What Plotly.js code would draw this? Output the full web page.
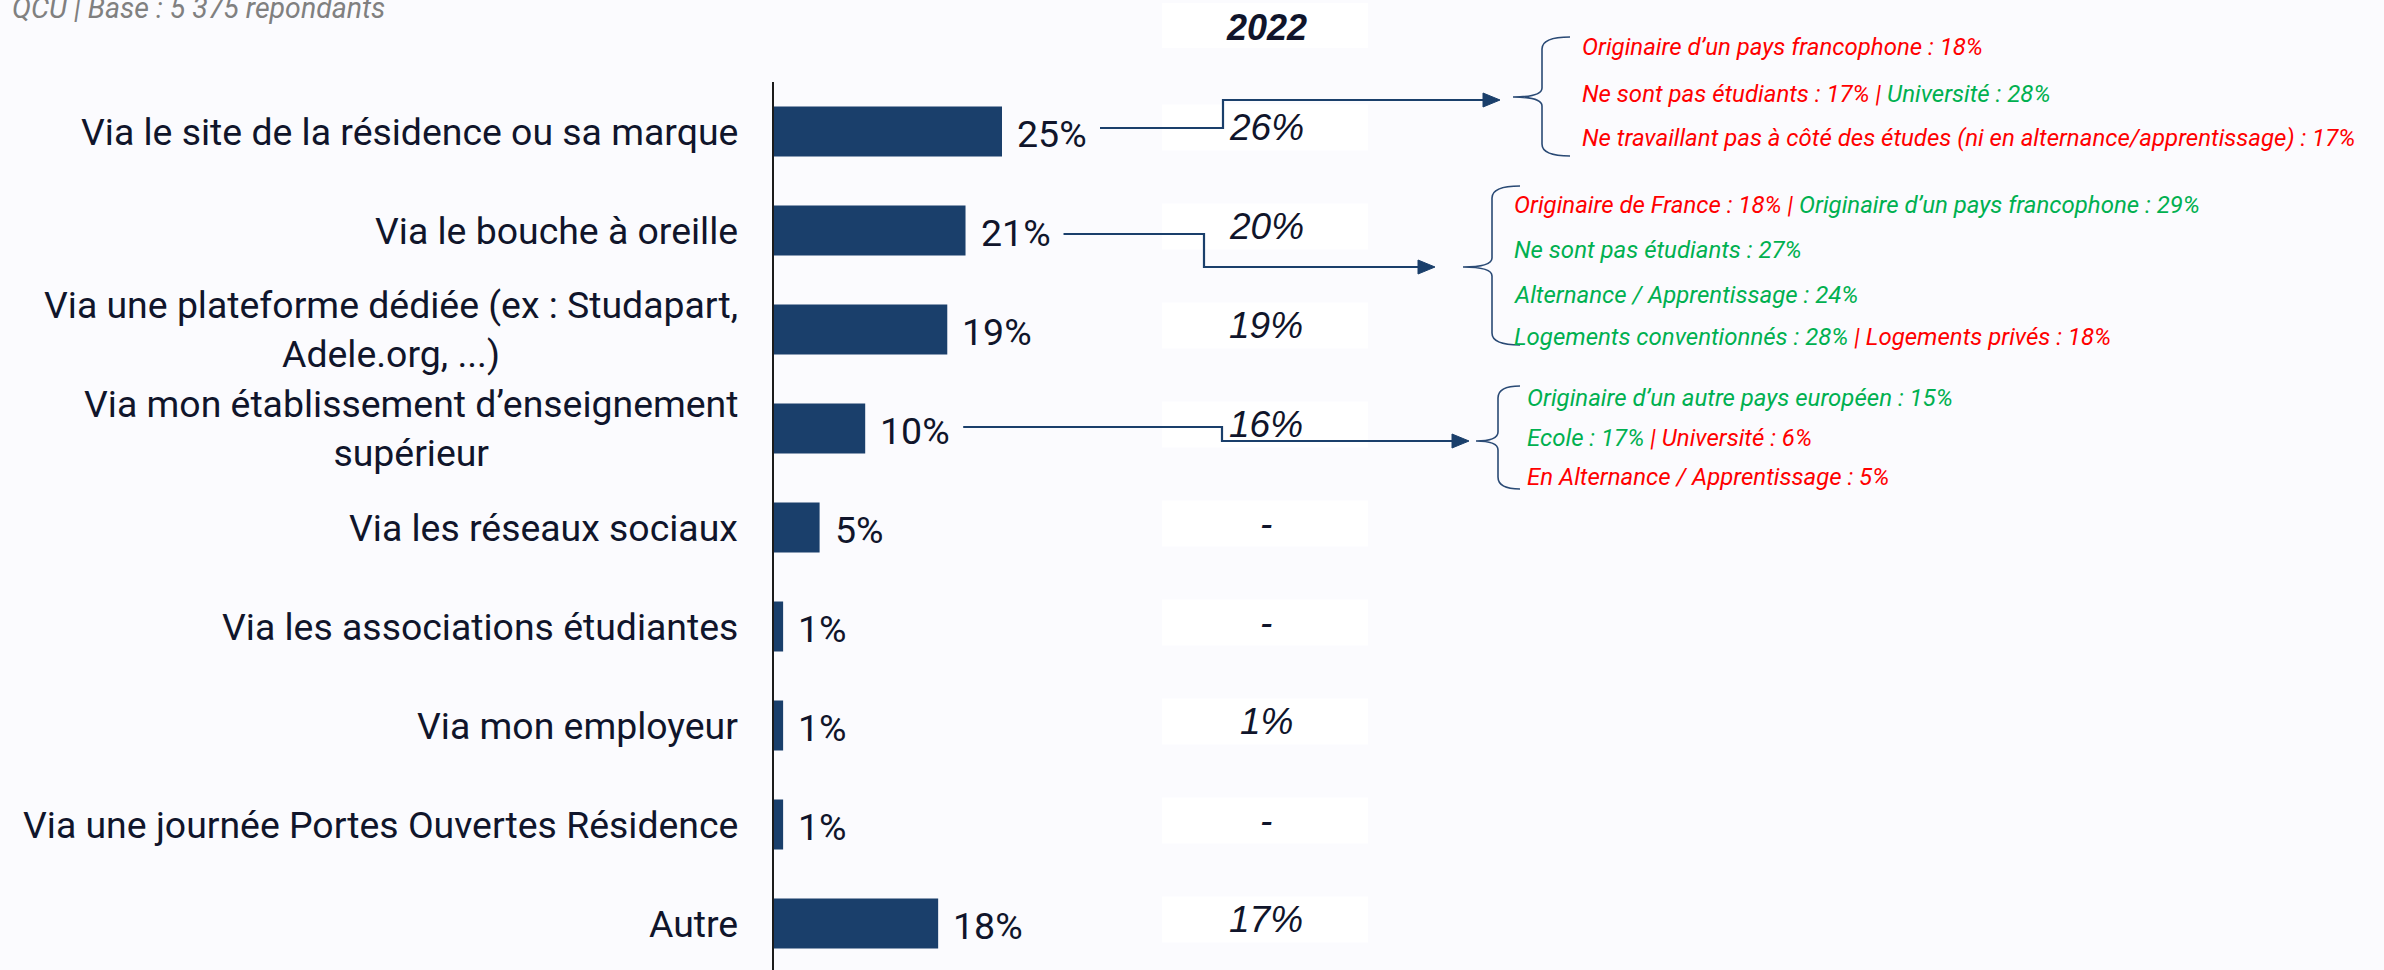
<!DOCTYPE html>
<html>
<head>
<meta charset="utf-8">
<script src="https://cdn.plot.ly/plotly-3.0.1.min.js"></script>
<style>
  html, body { margin: 0; padding: 0; background: #fbfbfe; }
  #chart { width: 2384px; height: 970px; }
</style>
</head>
<body>
<div id="chart"></div>
<script>
// ---------- DATA ----------
const categories = [
  "Via le site de la résidence ou sa marque",
  "Via le bouche à oreille",
  "Via une plateforme dédiée (ex : Studapart,<br>Adele.org, ...)",
  "Via mon établissement d’enseignement<br>supérieur",
  "Via les réseaux sociaux",
  "Via les associations étudiantes",
  "Via mon employeur",
  "Via une journée Portes Ouvertes Résidence",
  "Autre"
];
const values2023 = [25, 21, 19, 10, 5, 1, 1, 1, 18];
const labels2022 = ["26%", "20%", "19%", "16%", "-", "-", "1%", "-", "17%"];
const headerYear = "2022";
const subtitle = "QCU | Base : 5 375 répondants";

const RED = "#ff0000", GREEN = "#00b050";
const detailsSite = [
  [[RED, "Originaire d’un pays francophone : 18%"]],
  [[RED, "Ne sont pas étudiants : 17% | "], [GREEN, "Université : 28%"]],
  [[RED, "Ne travaillant pas à côté des études (ni en alternance/apprentissage) : 17%"]]
];
const detailsBouche = [
  [[RED, "Originaire de France : 18% | "], [GREEN, "Originaire d’un pays francophone : 29%"]],
  [[GREEN, "Ne sont pas étudiants : 27%"]],
  [[GREEN, "Alternance / Apprentissage : 24%"]],
  [[GREEN, "Logements conventionnés : 28% "], [RED, "| Logements privés : 18%"]]
];
const detailsEtab = [
  [[GREEN, "Originaire d’un autre pays européen : 15%"]],
  [[GREEN, "Ecole : 17% "], [RED, "| Université : 6%"]],
  [[RED, "En Alternance / Apprentissage : 5%"]]
];

// ---------- LAYOUT GEOMETRY ----------
const W = 2384, H = 970, L = 774, T = 82;
const PW = W - L, PH = H - T;
const PX_PER = 9.12;            // pixels per percentage point
const ROW = 99;                 // pixels per category row
const px = x => (x - L) / PW;   // pixel -> paper x
const py = y => (H - y) / PH;   // pixel -> paper y

const BAR = "#1a3f6b";
const INK = "#10152b";
const FONT = "Roboto, 'Open Sans', sans-serif";
const ARIAL = "'Liberation Sans', Arial, sans-serif";

const annotations = [];
const shapes = [];

// category labels (centered multi-line, right anchored)
categories.forEach((c, i) => {
  annotations.push({
    xref: "x", yref: "y", x: 0, y: i, xshift: -34,
    xanchor: "right", yanchor: "middle", align: "center",
    text: c, showarrow: false,
    font: { family: FONT, size: 37.4, color: INK }
  });
});

// value labels
values2023.forEach((v, i) => {
  annotations.push({
    xref: "x", yref: "y", x: v, y: i, xshift: 13, yshift: -2,
    xanchor: "left", yanchor: "middle",
    text: v + "%", showarrow: false,
    font: { family: FONT, size: 37.5, color: INK }
  });
});

// 2022 column
const colX0 = px(1162), colX1 = px(1368), colXc = px(1266);
const boxHalf = 23 / ROW, boxLift = 4 / ROW;
labels2022.forEach((t, i) => {
  shapes.push({
    type: "rect", xref: "paper", yref: "y", layer: "below",
    x0: colX0, x1: colX1, y0: i - boxHalf - boxLift, y1: i + boxHalf - boxLift,
    fillcolor: "#ffffff", line: { width: 0 }
  });
  annotations.push({
    xref: "paper", yref: "y", x: colXc, y: i, yshift: 4,
    xanchor: "center", yanchor: "middle",
    text: t, showarrow: false,
    font: { family: ARIAL, size: 37, color: INK, style: "italic" }
  });
});
shapes.push({
  type: "rect", xref: "paper", yref: "paper", layer: "below",
  x0: colX0, x1: colX1, y0: py(48), y1: py(3),
  fillcolor: "#ffffff", line: { width: 0 }
});
annotations.push({
  xref: "paper", yref: "paper", x: colXc, y: py(27),
  xanchor: "center", yanchor: "middle",
  text: headerYear, showarrow: false,
  font: { family: ARIAL, size: 36, color: INK, style: "italic", weight: "bold" }
});

// subtitle (partially cut at the top, as in the source slide)
annotations.push({
  xref: "paper", yref: "paper", x: px(10), y: py(8),
  xanchor: "left", yanchor: "middle",
  text: subtitle, showarrow: false,
  font: { family: FONT, size: 28.5, color: "#808080", style: "italic" }
});

// connectors with arrowheads
function path(points) {
  return points.map((p, k) => (k ? "L" : "M") + px(p[0]) + "," + py(p[1])).join(" ");
}
const connectors = [
  { row: 0, y1: 128, xc: 1223, y2: 100, tip: 1500 },
  { row: 1, y1: 234, xc: 1204, y2: 267, tip: 1435 },
  { row: 3, y1: 427, xc: 1222, y2: 441, tip: 1469 }
];
connectors.forEach(c => {
  const x0 = L + values2023[c.row] * PX_PER + 98;
  shapes.push({
    type: "path", xref: "paper", yref: "paper",
    path: path([[x0, c.y1], [c.xc, c.y1], [c.xc, c.y2], [c.tip - 14, c.y2]]),
    line: { color: BAR, width: 2.2 }
  });
  shapes.push({
    type: "path", xref: "paper", yref: "paper",
    path: path([[c.tip - 17, c.y2 - 7], [c.tip, c.y2], [c.tip - 17, c.y2 + 7]]) + " Z",
    fillcolor: BAR, line: { color: BAR, width: 1 }
  });
});

// curly brackets
const brackets = [
  { tip: 1513, vx: 1542, ex: 1570, top: 37, mid: 97, bot: 156 },
  { tip: 1463, vx: 1492, ex: 1520, top: 186, mid: 267, bot: 345 },
  { tip: 1476, vx: 1498, ex: 1520, top: 386, mid: 441, bot: 489 }
];
function P(x, y) { return px(x) + "," + py(y); }
brackets.forEach(b => {
  const d = "M" + P(b.ex, b.top) +
    " Q" + P(b.vx, b.top) + " " + P(b.vx, b.top + 12) +
    " L" + P(b.vx, b.mid - 9) +
    " Q" + P(b.vx, b.mid) + " " + P(b.tip, b.mid) +
    " Q" + P(b.vx, b.mid) + " " + P(b.vx, b.mid + 9) +
    " L" + P(b.vx, b.bot - 12) +
    " Q" + P(b.vx, b.bot) + " " + P(b.ex, b.bot);
  shapes.push({
    type: "path", xref: "paper", yref: "paper", path: d,
    line: { color: "#2a4a75", width: 1.6 }
  });
});

// detail text blocks
function seg(line) {
  return line.map(s => '<span style="color:' + s[0] + '">' + s[1] + '</span>').join("");
}
const blocks = [
  { lines: detailsSite, x: 1580, ys: [47, 94, 138] },
  { lines: detailsBouche, x: 1512, ys: [205, 250, 295, 337] },
  { lines: detailsEtab, x: 1525, ys: [398, 438, 477] }
];
blocks.forEach(b => {
  b.lines.forEach((ln, k) => {
    annotations.push({
      xref: "paper", yref: "paper", x: px(b.x), y: py(b.ys[k]),
      xanchor: "left", yanchor: "middle",
      text: seg(ln), showarrow: false,
      font: { family: FONT, size: 24, color: RED, style: "italic" }
    });
  });
});

// ---------- PLOT ----------
const trace = {
  type: "bar", orientation: "h",
  x: values2023, y: categories,
  width: 0.505,
  marker: { color: BAR },
  hoverinfo: "none"
};

const layout = {
  width: W, height: H,
  margin: { l: L, r: 0, t: T, b: 0, pad: 0 },
  paper_bgcolor: "#fbfbfe",
  plot_bgcolor: "rgba(0,0,0,0)",
  showlegend: false,
  xaxis: {
    range: [0, PW / PX_PER], visible: false, fixedrange: true
  },
  yaxis: {
    type: "category",
    range: [PH / ROW - 0.5, -0.5],
    showline: true, linecolor: "#1b1b1b", linewidth: 2,
    showgrid: false, zeroline: false, ticks: "", showticklabels: false,
    fixedrange: true
  },
  shapes: shapes,
  annotations: annotations
};

Plotly.newPlot("chart", [trace], layout, { displayModeBar: false, staticPlot: true });
</script>
</body>
</html>
